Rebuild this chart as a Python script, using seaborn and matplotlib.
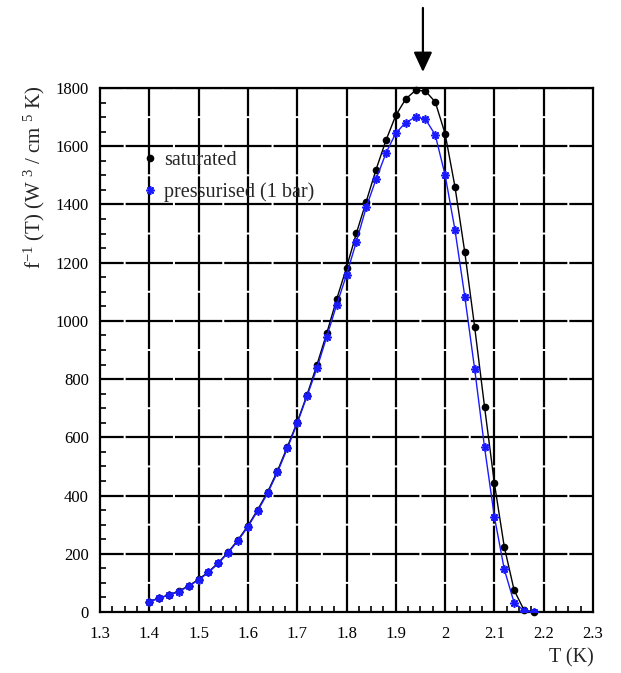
import numpy as np
import pandas as pd
import matplotlib
matplotlib.use("Agg")
import matplotlib.pyplot as plt
from matplotlib.lines import Line2D
import seaborn as sns

# ---- data ----
temperature = [1.40, 1.42, 1.44, 1.46, 1.48, 1.50, 1.52, 1.54, 1.56, 1.58,
               1.60, 1.62, 1.64, 1.66, 1.68, 1.70, 1.72, 1.74, 1.76, 1.78,
               1.80, 1.82, 1.84, 1.86, 1.88, 1.90, 1.92, 1.94, 1.96, 1.98,
               2.00, 2.02, 2.04, 2.06, 2.08, 2.10, 2.12, 2.14, 2.16, 2.18]
saturated = [36, 48, 59, 72, 90, 112, 138, 169, 206, 248,
             296, 352, 412, 485, 567, 652, 746, 849, 958, 1074,
             1183, 1301, 1410, 1520, 1620, 1706, 1762, 1792, 1790, 1752,
             1643, 1461, 1235, 978, 705, 442, 224, 75, 7, 0]
pressurised = [35, 47, 58, 70, 89, 110, 136, 167, 204, 245,
               293, 348, 408, 480, 562, 648, 742, 837, 946, 1055,
               1158, 1272, 1390, 1487, 1576, 1645, 1681, 1700, 1693, 1639,
               1501, 1313, 1083, 834, 566, 327, 147, 32, 5, 0]
series_labels = ["saturated", "pressurised (1 bar)"]
x_ticks = [1.3, 1.4, 1.5, 1.6, 1.7, 1.8, 1.9, 2.0, 2.1, 2.2, 2.3]
x_tick_labels = ["1.3", "1.4", "1.5", "1.6", "1.7", "1.8", "1.9", "2", "2.1", "2.2", "2.3"]
y_ticks = [0, 200, 400, 600, 800, 1000, 1200, 1400, 1600, 1800]
peak_T = 1.955

df = pd.DataFrame({"T": temperature, "sat": saturated, "pres": pressurised})

sns.set_theme(style="white")
plt.rcParams["font.family"] = ["Liberation Serif", "DejaVu Serif"]
plt.rcParams["mathtext.fontset"] = "custom"
plt.rcParams["mathtext.rm"] = "Liberation Serif"
plt.rcParams["mathtext.it"] = "Liberation Serif:italic"
plt.rcParams["lines.scale_dashes"] = False

W, H = 621, 673
fig = plt.figure(figsize=(W / 100, H / 100), dpi=100)
ax = fig.add_axes([100 / W, 1 - 612 / H, 493 / W, 524 / H])
ax.set_facecolor("white")

xmin, xmax, ymin, ymax = 1.3, 2.3, 0, 1800
ax.set_xlim(xmin, xmax)
ax.set_ylim(ymin, ymax)

# grid lines with small breaks midway between crossings
px = 0.72  # points per pixel
xsp = 493 / 10
ysp = 524 / 9
gap = 2.0
for yv in y_ticks[1:]:
    on = xsp - gap
    ax.axhline(yv, color="black", lw=1.6, zorder=1,
               linestyle=((on - (xsp / 2 - gap / 2)) * px, (on * px, gap * px)))
for xv in x_ticks[1:-1]:
    on = ysp - gap
    ax.axvline(xv, color="black", lw=1.6, zorder=1,
               linestyle=((on - (ysp / 2 - gap / 2)) * px, (on * px, gap * px)))

blue = "#1a1aff"
# curves
sns.lineplot(data=df, x="T", y="sat", ax=ax, color="black", lw=1.0,
             marker="o", markersize=5.5, markeredgewidth=0, legend=False,
             zorder=3, clip_on=False)
sns.lineplot(data=df, x="T", y="pres", ax=ax, color=blue, lw=1.0,
             marker=(8, 2, 0), markersize=6, markeredgewidth=1.2,
             markeredgecolor=blue, legend=False, zorder=4)

# axes styling
for s in ax.spines.values():
    s.set_color("black")
    s.set_linewidth(1.6)
ax.set_xticks(x_ticks)
ax.set_xticklabels(x_tick_labels)
ax.set_yticks(y_ticks)
ax.set_yticklabels([str(v) for v in y_ticks])
ax.set_xticks(np.arange(1.3, 2.3001, 0.025), minor=True)
ax.set_yticks(np.arange(0, 1800.1, 50), minor=True)
ax.tick_params(axis="both", which="both", bottom=True, left=True,
               top=False, right=False)
ax.tick_params(axis="both", which="major", direction="in", length=0,
               labelsize=12, colors="black")
ax.tick_params(axis="x", which="major", pad=10)
ax.tick_params(axis="y", which="major", pad=8)
ax.tick_params(axis="both", which="minor", direction="in", length=4,
               width=1.2, color="black")
ax.set_xlabel("")
ax.set_ylabel("")

fig.text(571 / W, 1 - 658 / H, "T (K)", fontsize=14.5, ha="center", va="center")
fig.text(34 / W, 1 - 177 / H, r"f$^{-1}$ (T) (W $^{3}$ / cm $^{5}$ K)",
         fontsize=15, rotation=90, ha="center", va="center")

# legend
handles = [Line2D([], [], color="black", marker="o", markersize=5.5, linestyle="none",
                  markeredgewidth=0),
           Line2D([], [], color=blue, marker=(8, 2, 0), markersize=6,
                  markeredgewidth=1.2, linestyle="none")]
ax.legend(handles, series_labels, loc="upper left",
          bbox_to_anchor=(0.064, 0.895), frameon=False, fontsize=14.5,
          handlelength=1.0, handletextpad=0.2, labelspacing=0.62,
          borderaxespad=0)

# arrow marking the peak
ax.annotate("", xy=(peak_T, 1855), xytext=(peak_T, 2075),
            arrowprops=dict(arrowstyle="-|>,head_length=0.6,head_width=0.28",
                            color="black", lw=1.6, mutation_scale=20,
                            shrinkA=0, shrinkB=0),
            annotation_clip=False)

fig.savefig("out.png", dpi=100, facecolor="white")
